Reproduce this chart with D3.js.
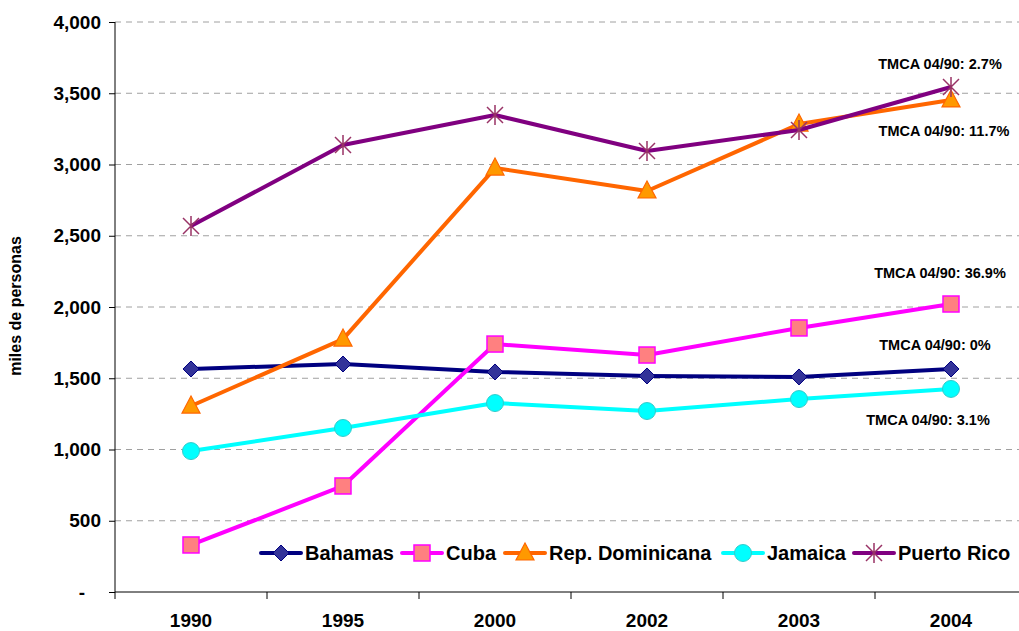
<!DOCTYPE html>
<html>
<head>
<meta charset="utf-8">
<script src="https://cdn.jsdelivr.net/npm/d3@7"></script>
<style>
  body { margin: 0; background: #fff; }
  text { font-family: Arial, "Liberation Sans", sans-serif; }
</style>
</head>
<body>
<svg id="chart" width="1019" height="631"></svg>
<script>
// values
var years = ['1990', '1995', '2000', '2002', '2003', '2004']
var bahamas = [1565, 1600, 1544, 1516, 1509, 1565]
var cuba = [330, 744, 1740, 1663, 1853, 2021]
var repDominicana = [1305, 1775, 2975, 2814, 3284, 3453]
var jamaica = [989, 1151, 1326, 1270, 1354, 1425]
var puertoRico = [2568, 3137, 3347, 3095, 3242, 3544]
var yTicks = [0, 500, 1000, 1500, 2000, 2500, 3000, 3500, 4000]
var tmcaLabels = ['0%', '36.9%', '11.7%', '3.1%', '2.7%']

var series = [
  { name: 'Bahamas', values: bahamas, line: '#000080', fill: '#333399', stroke: '#000080', marker: 'diamond', tmca: tmcaLabels[0] },
  { name: 'Cuba', values: cuba, line: '#FF00FF', fill: '#FF8080', stroke: '#FF00FF', marker: 'square', tmca: tmcaLabels[1] },
  { name: 'Rep. Dominicana', values: repDominicana, line: '#FF6600', fill: '#FF9900', stroke: '#FF6600', marker: 'triangle', tmca: tmcaLabels[2] },
  { name: 'Jamaica', values: jamaica, line: '#00FFFF', fill: '#00FFFF', stroke: '#33CCCC', marker: 'circle', tmca: tmcaLabels[3] },
  { name: 'Puerto Rico', values: puertoRico, line: '#800080', fill: 'none', stroke: '#993366', marker: 'star', tmca: tmcaLabels[4] }
]

// where each TMCA note sits relative to the 2004 point (dx, dy to baseline)
var notePos = {
  'Bahamas': [-16, -19],
  'Cuba': [-11, -26],
  'Rep. Dominicana': [-7, 36],
  'Jamaica': [-23, 36],
  'Puerto Rico': [-11, -18]
}

var svg = d3.select('#chart')
var plotLeft = 115, plotTop = 22, plotRight = 1027, plotBottom = 592

var x = d3.scaleBand().domain(years).range([plotLeft, plotRight])
var y = d3.scaleLinear().domain([0, 4000]).range([plotBottom, plotTop])

// gridlines
svg.append('g')
  .selectAll('line')
  .data(yTicks.filter(function (d) { return d > 0 }))
  .enter().append('line')
  .attr('x1', plotLeft).attr('x2', 1019)
  .attr('y1', function (d) { return y(d) }).attr('y2', function (d) { return y(d) })
  .attr('stroke', '#a0a0a0').attr('stroke-width', 1)
  .attr('stroke-dasharray', '6,5')

// y axis
var yAxis = svg.append('g')
  .attr('transform', 'translate(' + plotLeft + ',0)')
  .call(d3.axisLeft(y).tickValues(yTicks).tickSize(6).tickPadding(8)
    .tickFormat(function (d) { return d === 0 ? '-' : d3.format(',')(d) }))
yAxis.select('.domain').attr('stroke', '#000').attr('d', 'M0,' + plotTop + 'V' + plotBottom)
yAxis.selectAll('.tick line').attr('stroke', '#000')
yAxis.selectAll('text')
  .attr('font-size', '19px').attr('font-weight', 'bold').attr('fill', '#000')
  .attr('font-family', 'Arial, "Liberation Sans", sans-serif')
  .attr('dx', function (d) { return d === 0 ? -16 : 0 })

// x axis
var xAxis = svg.append('g')
  .attr('transform', 'translate(0,' + plotBottom + ')')
  .call(d3.axisBottom(x).tickSize(0).tickPadding(22))
xAxis.select('.domain').attr('stroke', '#000').attr('d', 'M' + plotLeft + ',0H' + plotRight)
xAxis.selectAll('text')
  .attr('font-size', '19px').attr('font-weight', 'bold').attr('fill', '#000')
  .attr('font-family', 'Arial, "Liberation Sans", sans-serif')
var bounds = [plotLeft].concat(years.map(function (d) { return x(d) + x.bandwidth() }))
xAxis.selectAll('.sep')
  .data(bounds.slice(0, -1))
  .enter().append('line')
  .attr('x1', function (d) { return d }).attr('x2', function (d) { return d })
  .attr('y1', 0).attr('y2', 7)
  .attr('stroke', '#000')

// y label
svg.append('text')
  .attr('transform', 'translate(21,306) rotate(-90)')
  .attr('text-anchor', 'middle')
  .attr('font-size', '16px').attr('font-weight', 'bold')
  .text('miles de personas')

function cx (i) { return x(years[i]) + x.bandwidth() / 2 }

function drawMarker (g, s, px, py) {
  if (s.marker === 'diamond') {
    g.append('path')
      .attr('d', 'M' + px + ',' + (py - 8) + 'L' + (px + 8) + ',' + py + 'L' + px + ',' + (py + 8) + 'L' + (px - 8) + ',' + py + 'Z')
      .attr('fill', s.fill).attr('stroke', s.stroke).attr('stroke-width', 1)
  } else if (s.marker === 'square') {
    g.append('rect')
      .attr('x', px - 8).attr('y', py - 8).attr('width', 16).attr('height', 16)
      .attr('fill', s.fill).attr('stroke', s.stroke).attr('stroke-width', 1.5)
  } else if (s.marker === 'triangle') {
    g.append('path')
      .attr('d', 'M' + px + ',' + (py - 10) + 'L' + (px + 9) + ',' + (py + 7) + 'L' + (px - 9) + ',' + (py + 7) + 'Z')
      .attr('fill', s.fill).attr('stroke', s.stroke).attr('stroke-width', 1.2)
  } else if (s.marker === 'circle') {
    g.append('circle')
      .attr('cx', px).attr('cy', py).attr('r', 8.5)
      .attr('fill', s.fill).attr('stroke', s.stroke).attr('stroke-width', 1)
  } else if (s.marker === 'star') {
    var r = 8
    var d = 'M' + (px - r) + ',' + (py - r) + 'L' + (px + r) + ',' + (py + r) +
      'M' + (px - r) + ',' + (py + r) + 'L' + (px + r) + ',' + (py - r) +
      'M' + px + ',' + (py - r - 2) + 'L' + px + ',' + (py + r + 2)
    g.append('path').attr('d', d).attr('stroke', s.stroke).attr('stroke-width', 1.5).attr('fill', 'none')
  }
}

var line = d3.line()
  .x(function (d, i) { return cx(i) })
  .y(function (d) { return y(d) })

series.forEach(function (s) {
  var g = svg.append('g')
  g.append('path')
    .datum(s.values)
    .attr('d', line)
    .attr('fill', 'none')
    .attr('stroke', s.line)
    .attr('stroke-width', 4)
    .attr('stroke-linejoin', 'round')
  s.values.forEach(function (v, i) {
    drawMarker(g, s, cx(i), y(v))
  })
})

// TMCA notes
series.forEach(function (s) {
  var last = s.values.length - 1
  var p = notePos[s.name]
  svg.append('text')
    .attr('x', cx(last) + p[0])
    .attr('y', y(s.values[last]) + p[1])
    .attr('text-anchor', 'middle')
    .attr('font-size', '14.5px').attr('font-weight', 'bold')
    .text('TMCA 04/90: ' + s.tmca)
})

// legend
var legendX = [261, 402, 505, 723, 854]
series.forEach(function (s, i) {
  var lg = svg.append('g').attr('transform', 'translate(' + legendX[i] + ',553)')
  lg.append('line').attr('x1', 0).attr('x2', 40).attr('y1', 0).attr('y2', 0)
    .attr('stroke', s.line).attr('stroke-width', 4).attr('stroke-linecap', 'round')
  drawMarker(lg, s, 20, 0)
  lg.append('text')
    .attr('x', 44).attr('y', 7)
    .attr('font-size', '20px').attr('font-weight', 'bold')
    .text(s.name)
})
</script>
</body>
</html>
